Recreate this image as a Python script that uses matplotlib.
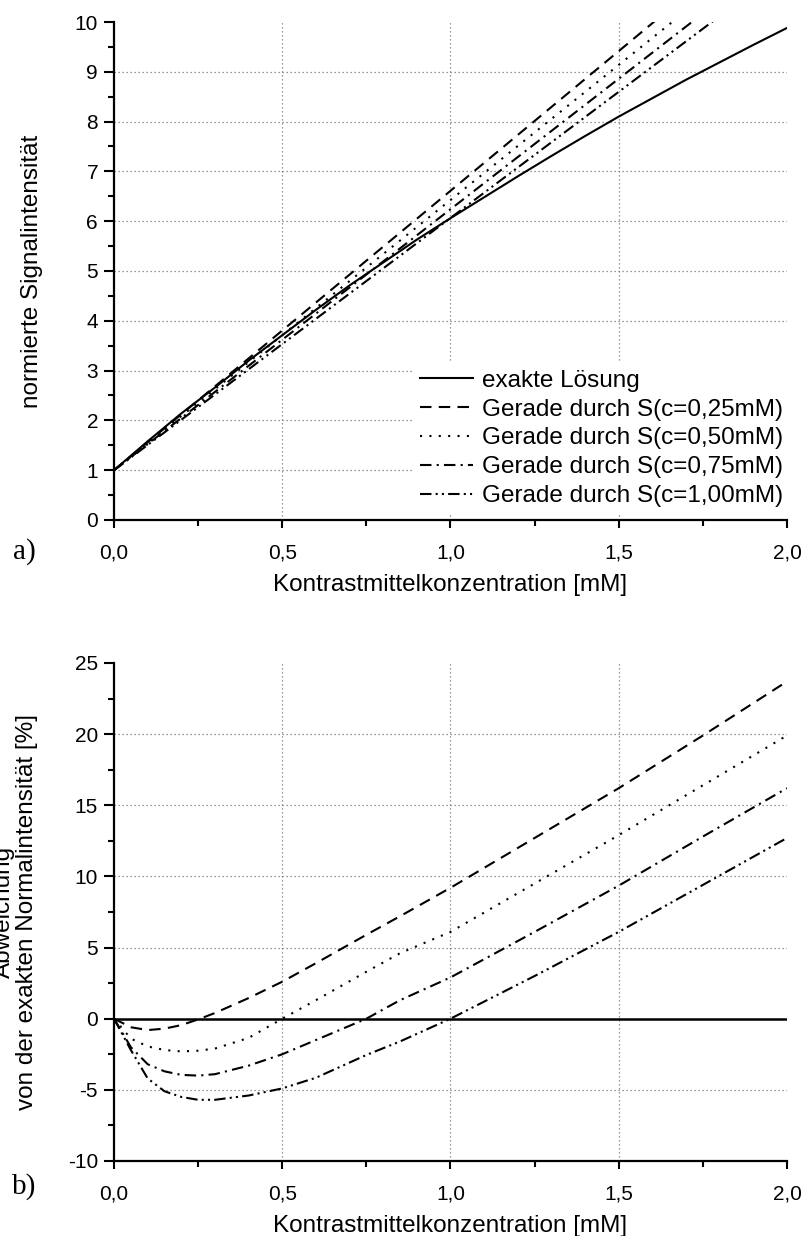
import numpy as np
import matplotlib
matplotlib.use("Agg")
import matplotlib.pyplot as plt
from matplotlib.ticker import MultipleLocator, FuncFormatter

plt.rcParams['font.family'] = ['Liberation Sans', 'DejaVu Sans']
plt.rcParams['axes.unicode_minus'] = False

# exact solution, normalised signal intensity
conc = [0.0, 0.1, 0.2, 0.3, 0.4, 0.5, 0.6, 0.7, 0.8, 0.9, 1.0,
        1.1, 1.2, 1.3, 1.4, 1.5, 1.6, 1.7, 1.8, 1.9, 2.0]
signal_exact = [1.00, 1.58, 2.14, 2.66, 3.20, 3.71, 4.22, 4.71, 5.17, 5.63, 6.06,
                6.48, 6.90, 7.31, 7.71, 8.10, 8.47, 8.84, 9.19, 9.54, 9.88]

# straight lines through S(c): value at c=0 and at c=2.0
line_x = [0.0, 2.0]
line_025 = [1.0, 12.22]
line_050 = [1.0, 11.85]
line_075 = [1.0, 11.48]
line_100 = [1.0, 11.13]

labels = ['exakte Lösung',
          'Gerade durch S(c=0,25mM)',
          'Gerade durch S(c=0,50mM)',
          'Gerade durch S(c=0,75mM)',
          'Gerade durch S(c=1,00mM)']

# deviation from exact solution [%]
dev_x = [0.0, 0.05, 0.1, 0.15, 0.2, 0.25, 0.3, 0.4, 0.5, 0.6, 0.75,
         0.85, 1.0, 1.25, 1.5, 1.75, 2.0]
dev_025 = [0.0, -0.6, -0.8, -0.7, -0.45, -0.05, 0.4, 1.45, 2.6, 3.9, 5.9,
           7.2, 9.2, 12.7, 16.2, 19.9, 23.7]
dev_050 = [0.0, -1.4, -1.95, -2.2, -2.3, -2.25, -2.1, -1.35, 0.0, 1.3, 3.3,
           4.6, 6.1, 9.5, 12.9, 16.4, 19.9]
dev_075 = [0.0, -2.0, -3.2, -3.7, -3.95, -4.0, -3.9, -3.3, -2.5, -1.5, 0.0,
           1.3, 2.9, 6.1, 9.35, 12.8, 16.2]
dev_100 = [0.0, -2.2, -4.2, -5.1, -5.5, -5.7, -5.7, -5.4, -4.9, -4.15, -2.55,
           -1.6, 0.0, 3.0, 6.1, 9.4, 12.7]
dev_exact = [0.0, 0.0]

styles = [dict(linestyle='-'),
          dict(dashes=(5.5, 3.5)),
          dict(dashes=(1.0, 3.5)),
          dict(dashes=(5.5, 2.5, 1.0, 2.5)),
          dict(dashes=(5.5, 2.0, 1.0, 2.0, 1.0, 2.0))]

comma = FuncFormatter(lambda v, p: f"{v:.1f}".replace('.', ','))

fig = plt.figure(figsize=(8.03, 12.36), dpi=100)
ax1 = fig.add_axes([0.142, 0.5793, 0.838, 0.4029])
ax2 = fig.add_axes([0.142, 0.0607, 0.838, 0.4029])


def style_axes(ax):
    for s in ['top', 'right']:
        ax.spines[s].set_visible(False)
    for s in ['left', 'bottom']:
        ax.spines[s].set_linewidth(1.6)
    ax.set_xlim(0, 2.0)
    ax.xaxis.set_major_locator(MultipleLocator(0.5))
    ax.xaxis.set_minor_locator(MultipleLocator(0.25))
    ax.xaxis.set_major_formatter(comma)
    ax.tick_params(axis='x', which='major', length=6, width=1.5, labelsize=15, pad=11)
    ax.tick_params(axis='x', which='minor', length=4, width=1.5)
    ax.tick_params(axis='y', which='major', length=7.5, width=1.5, labelsize=15, pad=4)
    ax.tick_params(axis='y', which='minor', length=4, width=1.5)
    ax.grid(True, which='major', color='#777777', linestyle=(0, (1, 2.2)), linewidth=0.9)
    ax.set_xlabel('Kontrastmittelkonzentration [mM]', fontsize=17.5, labelpad=8.5)


def hide_edge_grid(ax):
    # no grid lines on the axis edges
    ax.figure.canvas.draw()
    lo, hi = ax.get_xlim()
    for t in ax.xaxis.get_major_ticks():
        if np.isclose(t.get_loc(), lo) or np.isclose(t.get_loc(), hi):
            t.gridline.set_visible(False)
    lo, hi = ax.get_ylim()
    for t in ax.yaxis.get_major_ticks():
        if np.isclose(t.get_loc(), lo) or np.isclose(t.get_loc(), hi):
            t.gridline.set_visible(False)


# a) signal intensity
style_axes(ax1)
ax1.set_ylim(0, 10)
ax1.yaxis.set_major_locator(MultipleLocator(1))
ax1.yaxis.set_minor_locator(MultipleLocator(0.5))
ax1.plot(conc, signal_exact, color='black', lw=1.5, label=labels[0], **styles[0])
for ys, lab, st in zip([line_025, line_050, line_075, line_100], labels[1:], styles[1:]):
    ax1.plot(line_x, ys, color='black', lw=1.5, label=lab, **st)
leg = ax1.legend(loc='lower right', bbox_to_anchor=(1.023, -0.013), fontsize=17.5,
                 frameon=True, framealpha=1, edgecolor='none', facecolor='white',
                 handlelength=2.2, handletextpad=0.35, labelspacing=0.28,
                 borderpad=0.3, fancybox=False)
fig.text(32 / 803, 1 - 271 / 1236, 'normierte Signalintensität', rotation=90,
         ha='center', va='center', fontsize=17.5)
fig.text(24 / 803, 1 - 552 / 1236, 'a)', family='Liberation Serif', fontsize=21,
         ha='center', va='center')

# b) deviation
style_axes(ax2)
ax2.set_ylim(-10, 25)
ax2.yaxis.set_major_locator(MultipleLocator(5))
ax2.yaxis.set_minor_locator(MultipleLocator(2.5))
ax2.plot(line_x, dev_exact, color='black', lw=1.8, **styles[0])
for ys, st in zip([dev_025, dev_050, dev_075, dev_100], styles[1:]):
    ax2.plot(dev_x, ys, color='black', lw=1.5, **st)
fig.text(15.5 / 803, 1 - 912 / 1236, 'Abweichung\nvon der exakten Normalintensität [%]',
         rotation=90, ha='center', va='center', fontsize=17.5, multialignment='center',
         linespacing=1.1)
fig.text(24 / 803, 1 - 1187 / 1236, 'b)', family='Liberation Serif', fontsize=21,
         ha='center', va='center')

hide_edge_grid(ax1)
hide_edge_grid(ax2)

fig.savefig('out.png', dpi=100)
